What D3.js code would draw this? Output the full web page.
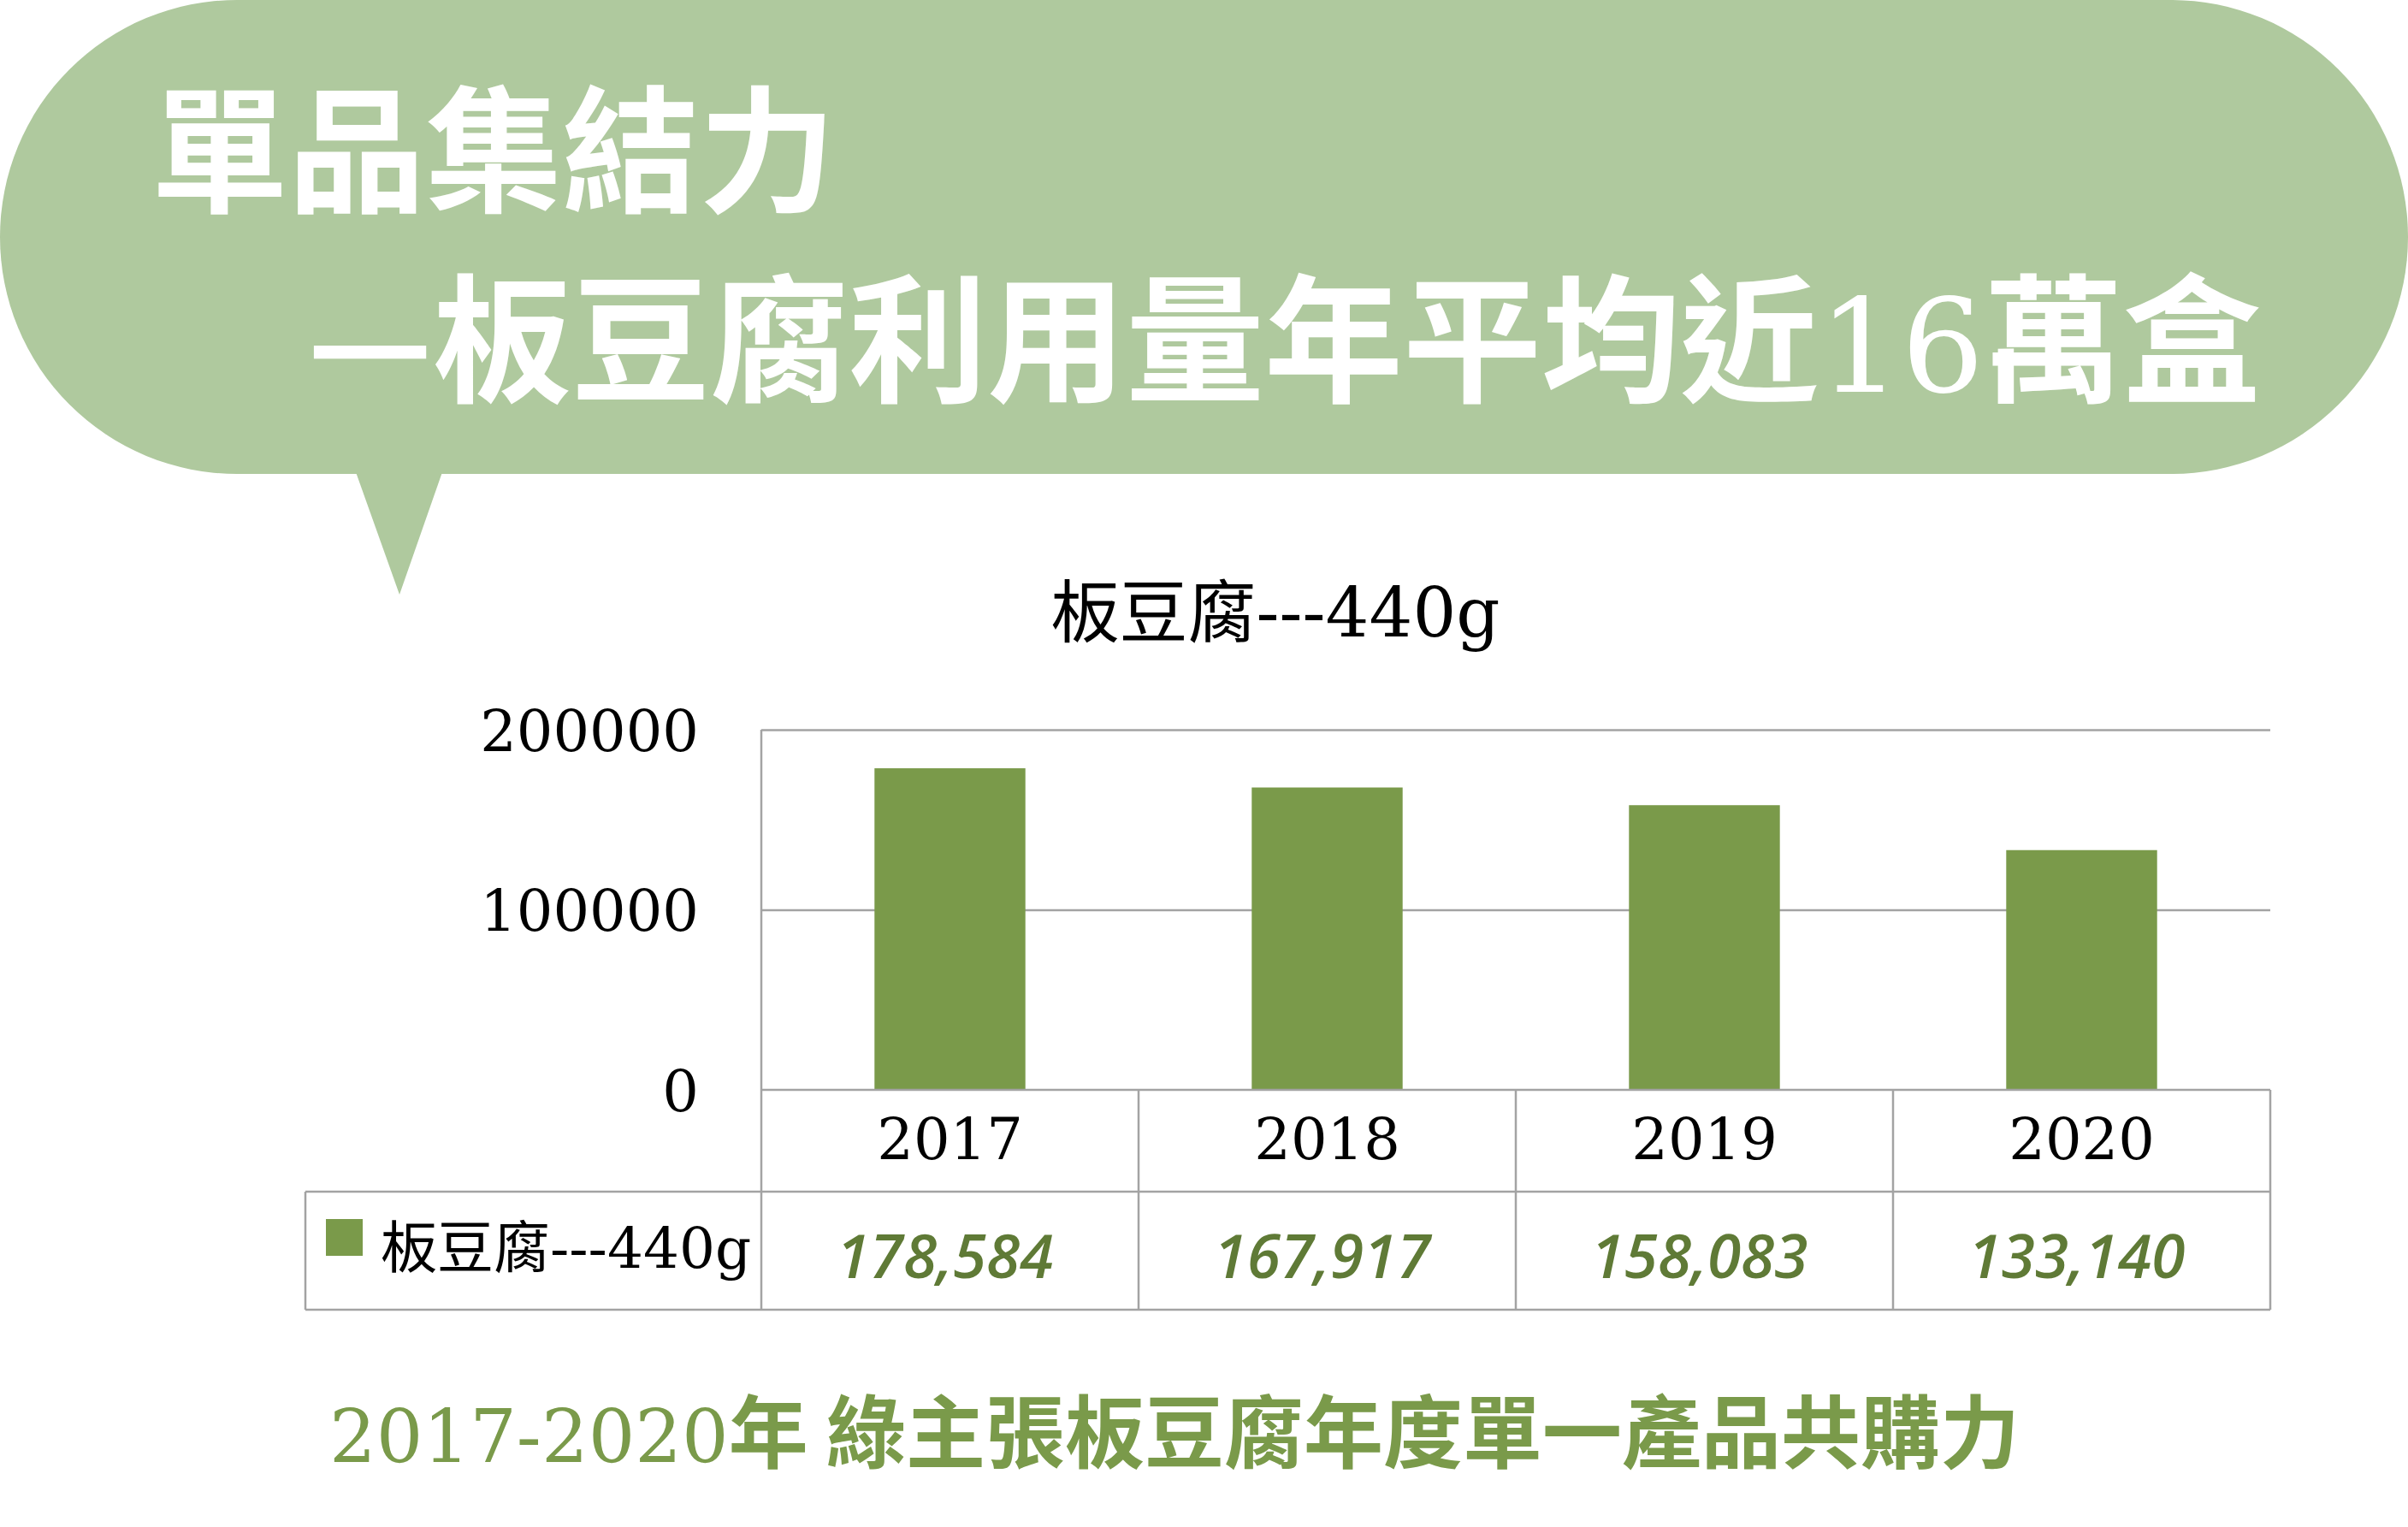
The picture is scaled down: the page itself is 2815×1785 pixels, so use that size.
<!DOCTYPE html>
<html>
<head>
<meta charset="utf-8">
<script src="https://cdn.jsdelivr.net/npm/d3@7"></script>
<style>
  html, body { margin: 0; padding: 0; background: #ffffff; }
  svg { display: block; }
</style>
</head>
<body>
<svg id="chart" width="2815" height="1785"></svg>
<script>
// ---- data ----
const years = ["2017", "2018", "2019", "2020"];
const boxes = [178584, 167917, 158083, 133140];
const seriesName = "板豆腐---440g";
const yTicks = [0, 100000, 200000];
const headline1 = "單品集結力";
const headline2 = ["—板豆腐利用量年平均近", "16", "萬盒"];
const captionLatin = "2017-2020";
const captionCJK = "年 綠主張板豆腐年度單一產品共購力";

// ---- styles ----
const BUBBLE = "#afc99e";
const BAR = "#7a9a4a";
const LABEL = "#5f7a36";
const GRID = "#a3a3a3";
const SERIF = "'DejaVu Serif', 'Noto Sans CJK TC', serif";
const CJK = "'Noto Sans CJK TC', 'Noto Sans CJK JP', sans-serif";

const W = 2815;
const svg = d3.select("#chart");

// ---- speech bubble header ----
const bubbleH = 554, r = bubbleH / 2;
const bubble = d3.path();
bubble.moveTo(r, 0);
bubble.lineTo(W - r, 0);
bubble.arc(W - r, r, r, -Math.PI / 2, Math.PI / 2);
bubble.lineTo(r, bubbleH);
bubble.arc(r, r, r, Math.PI / 2, Math.PI * 1.5);
bubble.closePath();
svg.append("path").attr("d", bubble.toString()).attr("fill", BUBBLE);

// pointer tail under the bubble
const tail = d3.line()([[416, bubbleH - 2], [517, bubbleH - 2], [467, 695]]);
svg.append("path").attr("d", tail + "Z").attr("fill", BUBBLE);

svg.append("text")
  .attr("x", 177).attr("y", 236)
  .attr("font-family", CJK).attr("font-weight", 700).attr("font-size", 160)
  .attr("fill", "#ffffff")
  .text(headline1);

const h2 = svg.append("text")
  .attr("x", 359).attr("y", 458)
  .attr("font-family", CJK).attr("font-weight", 700).attr("font-size", 162)
  .attr("fill", "#ffffff");
h2.append("tspan").text(headline2[0]);
h2.append("tspan").attr("font-family", SERIF).attr("font-weight", 400).attr("font-size", 152).text(headline2[1]);
h2.append("tspan").text(headline2[2]);

// ---- chart geometry ----
const plotL = 890, plotR = 2654, plotT = 853, plotB = 1274;
const legendL = 357;
const rowYear = 119, rowVal = 138;

const y = d3.scaleLinear().domain([0, 200000]).range([plotB, plotT]);
const xCell = d3.scaleBand().domain(years).range([plotL, plotR]).padding(0);
const xBar = d3.scaleBand().domain(years).range([plotL, plotR]).paddingInner(0.6).paddingOuter(0.3);

// chart title
svg.append("text")
  .attr("x", 1491).attr("y", 744)
  .attr("text-anchor", "middle")
  .attr("font-family", SERIF).attr("font-size", 80).attr("fill", "#000")
  .text(seriesName);

// gridlines
const grid = svg.append("g")
  .attr("transform", `translate(${plotL},0)`)
  .call(d3.axisLeft(y).tickValues(yTicks.filter(t => t > 0)).tickSize(-(plotR - plotL)).tickFormat(""));
grid.select(".domain").remove();
grid.selectAll("line").attr("stroke", GRID).attr("stroke-width", 2.5);

// y axis labels
const yAxis = svg.append("g")
  .attr("transform", `translate(${plotL},0)`)
  .call(d3.axisLeft(y).tickValues(yTicks).tickFormat(d3.format("d")).tickSize(0).tickPadding(73));
yAxis.select(".domain").remove();
yAxis.selectAll("text")
  .attr("dy", "0.36em")
  .attr("font-family", SERIF).attr("font-size", 67).attr("fill", "#000");

// bars
svg.append("g").selectAll("rect")
  .data(years.map((yr, i) => ({ yr, v: boxes[i] })))
  .join("rect")
  .attr("x", d => xBar(d.yr))
  .attr("width", xBar.bandwidth())
  .attr("y", d => y(d.v))
  .attr("height", d => y(0) - y(d.v))
  .attr("fill", BAR);

// data table lines
const tTop = y(0), tMid = tTop + rowYear, tBot = tMid + rowVal;
const hLines = [[plotL, tTop], [legendL, tMid], [legendL, tBot]];
const table = svg.append("g").attr("stroke", GRID).attr("stroke-width", 2.5);
table.selectAll("line.h").data(hLines).join("line").attr("class", "h")
  .attr("x1", d => d[0]).attr("x2", plotR).attr("y1", d => d[1]).attr("y2", d => d[1]);
table.append("line").attr("x1", plotL).attr("x2", plotL).attr("y1", plotT).attr("y2", tBot);
table.append("line").attr("x1", legendL).attr("x2", legendL).attr("y1", tMid).attr("y2", tBot);
table.selectAll("line.v").data(years).join("line").attr("class", "v")
  .attr("x1", d => xCell(d) + xCell.bandwidth()).attr("x2", d => xCell(d) + xCell.bandwidth())
  .attr("y1", tTop).attr("y2", tBot);

// year row
const xAxis = svg.append("g")
  .attr("transform", `translate(0,${tTop})`)
  .call(d3.axisBottom(xCell).tickSize(0).tickPadding(33));
xAxis.select(".domain").remove();
xAxis.selectAll("text")
  .attr("font-family", SERIF).attr("font-size", 67).attr("fill", "#000");

// value row
svg.append("g").selectAll("text")
  .data(years.map((yr, i) => ({ yr, v: boxes[i] })))
  .join("text")
  .attr("x", d => xCell(d.yr) + xCell.bandwidth() / 2 - 6)
  .attr("y", tMid + 101)
  .attr("text-anchor", "middle")
  .attr("font-family", "'Open Sans', 'Noto Sans', sans-serif")
  .attr("font-style", "italic").attr("font-weight", 600)
  .attr("font-size", 71).attr("fill", LABEL)
  .text(d => d3.format(",")(d.v));

// legend key
svg.append("rect")
  .attr("x", 381).attr("y", tMid + 32).attr("width", 43).attr("height", 43)
  .attr("fill", BAR);
svg.append("text")
  .attr("x", 445).attr("y", tMid + 89)
  .attr("font-family", SERIF).attr("font-size", 66).attr("fill", "#000")
  .text(seriesName);

// caption
const cap = svg.append("text")
  .attr("x", 385).attr("y", 1709)
  .attr("fill", BAR);
cap.append("tspan").attr("font-family", SERIF).attr("font-size", 86).text(captionLatin);
cap.append("tspan").attr("font-family", CJK).attr("font-weight", 700).attr("font-size", 93).text(captionCJK);
</script>
</body>
</html>
